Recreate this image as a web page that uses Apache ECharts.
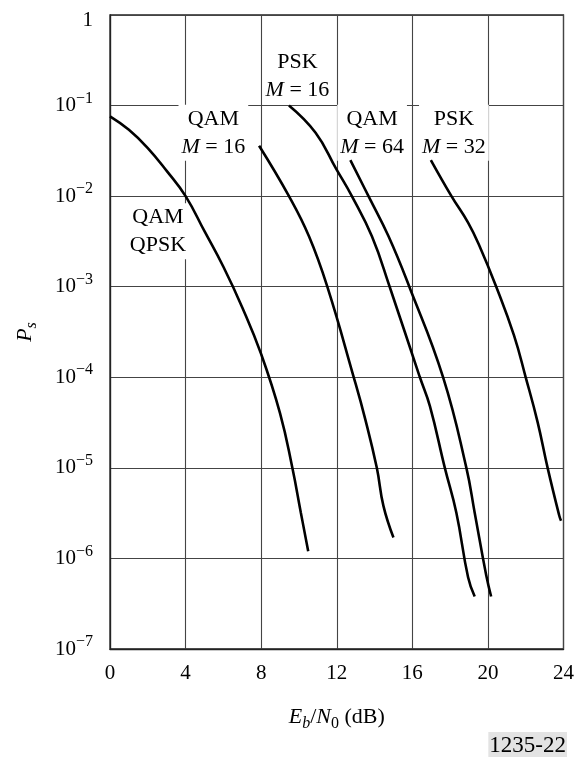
<!DOCTYPE html>
<html>
<head>
<meta charset="utf-8">
<script src="https://cdn.jsdelivr.net/npm/echarts@6/dist/echarts.min.js"></script>
<style>
  html, body { margin: 0; padding: 0; background: #fff; }
  #chart { width: 577px; height: 760px; }
</style>
</head>
<body>
<div id="chart"></div>
<script>
// Eb/N0 (dB) vs symbol error probability
const qpskX = [0, 1.0, 2.0, 3.0, 4.0, 5.0, 6.0, 7.0, 8.0, 9.0, 9.65, 10.1, 10.49];
const qpskP = [7.6e-2, 5.4e-2, 3.4e-2, 1.9e-2, 1.0e-2, 4.1e-3, 1.66e-3, 5.9e-4, 1.8e-4, 4.0e-5, 1.0e-5, 3.2e-6, 1.2e-6];

const qam16X = [7.89, 9.47, 10.53, 11.5, 12.9, 13.5, 14.12, 14.47, 15.0];
const qam16P = [3.6e-2, 1.0e-2, 3.6e-3, 1.0e-3, 1.0e-4, 3.5e-5, 1.0e-5, 3.8e-6, 1.7e-6];

const psk16X = [9.47, 10.88, 11.97, 12.8, 13.86, 14.8, 16.4, 16.93, 17.72, 18.33, 18.95, 19.3];
const psk16P = [1.0e-1, 5.0e-2, 2.0e-2, 1.0e-2, 3.6e-3, 1.0e-3, 1.0e-4, 4.8e-5, 1.0e-5, 3.2e-6, 6.2e-7, 3.8e-7];

const qam64X = [12.72, 13.68, 14.74, 15.84, 17.63, 18.86, 19.3, 19.91, 20.17];
const qam64P = [2.5e-2, 1.0e-2, 3.6e-3, 1.0e-3, 1.0e-4, 1.0e-5, 3.2e-6, 6.5e-7, 3.8e-7];

const psk32X = [16.98, 18.07, 18.95, 19.56, 20.44, 21.38, 22.0, 22.63, 23.16, 23.77, 23.87];
const psk32P = [2.5e-2, 1.0e-2, 5.1e-3, 2.8e-3, 1.0e-3, 2.9e-4, 1.0e-4, 3.2e-5, 1.0e-5, 3.0e-6, 2.6e-6];

// curve annotations (centre of each text block, in data units)
const labelText = ['PSK\n{i|M} = 16', 'QAM\n{i|M} = 16', 'QAM\n{i|M} = 64', 'PSK\n{i|M} = 32', 'QAM\nQPSK'];
const labelX = [9.92, 5.47, 13.87, 18.2, 2.54];
const labelP = [0.21, 0.05, 0.05, 0.05, 4.1e-3];

const xTicks = [0, 24, 4];
const pRange = [1e-7, 1];

const FONT = "'Liberation Serif', 'DejaVu Serif', serif";

function curve(xs, ps) {
  return {
    type: 'line',
    data: xs.map((x, i) => [x, ps[i]]),
    smooth: 0.45,
    showSymbol: false,
    silent: true,
    z: 3,
    lineStyle: { color: '#000', width: 2.6 },
  };
}

let chart = echarts.init(document.getElementById('chart'));
let option = {
  animation: false,
  backgroundColor: '#fff',
  title: {
    text: '1235-22',
    right: 10,
    bottom: 3,
    backgroundColor: '#e3e3e3',
    padding: [2, 1, 0, 1],
    textStyle: { fontFamily: FONT, fontSize: 23, fontWeight: 'normal', color: '#000' },
  },
  grid: {
    left: 110,
    right: 13,
    top: 15,
    bottom: 111,
    show: true,
    borderColor: '#222',
    borderWidth: 1.3,
  },
  xAxis: {
    type: 'value',
    min: xTicks[0],
    max: xTicks[1],
    interval: xTicks[2],
    name: '{i|E}{sub|b}/{i|N}{sub0|0} (dB)',
    nameLocation: 'middle',
    nameGap: 53,
    nameTextStyle: {
      fontFamily: FONT,
      fontSize: 22,
      color: '#000',
      lineHeight: 30,
      rich: {
        i: { fontFamily: FONT, fontSize: 22, fontStyle: 'italic', lineHeight: 30 },
        sub: { fontFamily: FONT, fontSize: 16, fontStyle: 'italic', lineHeight: 18, verticalAlign: 'bottom' },
        sub0: { fontFamily: FONT, fontSize: 16, lineHeight: 18, verticalAlign: 'bottom' },
      },
    },
    axisLine: { lineStyle: { color: '#222', width: 1.3 } },
    axisTick: { show: false },
    axisLabel: { fontFamily: FONT, fontSize: 21, color: '#000', margin: 14 },
    splitLine: { show: true, lineStyle: { color: '#444', width: 1.1 } },
  },
  yAxis: {
    type: 'log',
    logBase: 10,
    min: pRange[0],
    max: pRange[1],
    splitNumber: 7,
    name: '{i|P}{sub|s}',
    nameLocation: 'middle',
    nameGap: 70,
    nameTextStyle: {
      fontFamily: FONT,
      color: '#000',
      lineHeight: 30,
      rich: {
        i: { fontFamily: FONT, fontSize: 22, fontStyle: 'italic', lineHeight: 30 },
        sub: { fontFamily: FONT, fontSize: 16, fontStyle: 'italic', lineHeight: 18, verticalAlign: 'bottom' },
      },
    },
    axisLine: { show: true, lineStyle: { color: '#222', width: 1.3 } },
    axisTick: { show: false },
    axisLabel: {
      fontFamily: FONT,
      fontSize: 21,
      color: '#000',
      margin: 17,
      showMinLabel: true,
      showMaxLabel: true,
      lineHeight: 30,
      formatter: function (v) {
        let e = Math.round(Math.log10(v));
        if (e === 0) return '{one|1}';
        return '10{sup|\u2212' + (-e) + '}';
      },
      rich: {
        sup: { fontFamily: FONT, fontSize: 16, lineHeight: 18, verticalAlign: 'top' },
        one: { fontFamily: FONT, fontSize: 21, padding: [10, 0, 0, 0] },
      },
    },
    splitLine: { show: true, lineStyle: { color: '#444', width: 1.1 } },
  },
  series: [
    {
      type: 'scatter',
      data: labelX.map((x, i) => [x, labelP[i]]),
      symbolSize: 1,
      itemStyle: { color: 'rgba(0,0,0,0)', opacity: 1 },
      silent: true,
      z: 2,
      label: {
        show: true,
        position: 'inside',
        fontFamily: FONT,
        fontSize: 22,
        color: '#000',
        opacity: 1,
        lineHeight: 28,
        align: 'center',
        backgroundColor: '#fff',
        padding: [0, 3, 0, 3],
        formatter: function (p) {
          return labelText[p.dataIndex];
        },
        rich: {
          i: { fontFamily: FONT, fontSize: 22, fontStyle: 'italic', lineHeight: 28 },
        },
      },
    },
    curve(qpskX, qpskP),
    curve(qam16X, qam16P),
    curve(psk16X, psk16P),
    curve(qam64X, qam64P),
    curve(psk32X, psk32P),
  ],
};
chart.setOption(option);
</script>
</body>
</html>
